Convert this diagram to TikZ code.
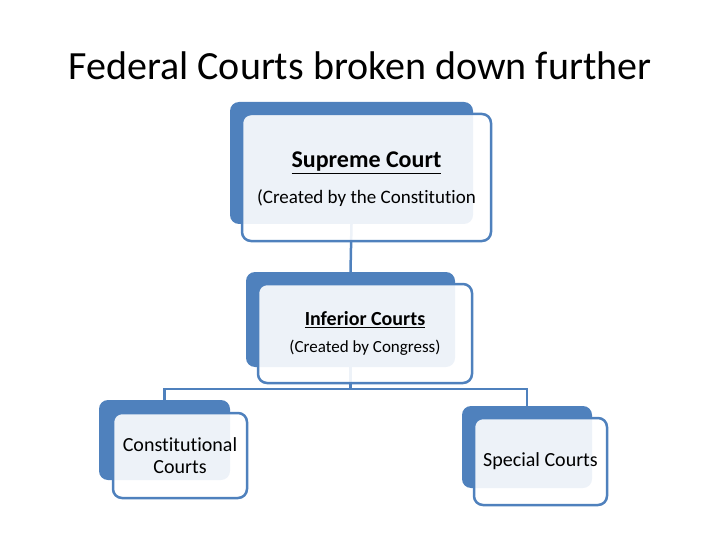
\documentclass[tikz,border=0pt]{standalone}
\usepackage{fontspec}
\setmainfont{Carlito}[Ligatures=NoCommon]
\usepackage{tikz}
\usetikzlibrary{positioning, backgrounds, calc}

\definecolor{accent}{HTML}{4F81BD}

\tikzset{
    backbox/.style={fill=accent, rounded corners=9pt, inner sep=0pt},
    frontbox/.style={draw=accent, line width=2.5pt, fill=white, fill opacity=0.9, text opacity=1,
        rounded corners=9pt, inner sep=0pt, align=center},
    link/.style={draw=accent, line width=2.5pt}
}

\begin{document}
\begin{tikzpicture}[x=1pt, y=-1pt]
    \useasboundingbox (0,0) rectangle (720,540);
    % Title
    \node[font=\fontsize{40}{46}\selectfont] (title) at (360,66) {Federal Courts broken down further};
    % Supreme Court
    \node[backbox, minimum width=243pt, minimum height=122pt] (supB) at (351.5,163) {};
    \node[frontbox, minimum width=249pt, minimum height=127pt, text depth=0pt] (sup) at (366.5,177.5)
        {\fontsize{24}{29}\selectfont\textbf{\underline{Supreme Court}}\\[15pt]
         \fontsize{19}{23}\selectfont(Created by the Constitution};
    % Inferior Courts
    \node[backbox, minimum width=209pt, minimum height=95pt] (infB) at (350.5,319.5) {};
    \node[frontbox, minimum width=214pt, minimum height=99pt] (inf) at (365,333.5)
        {\fontsize{20}{24}\selectfont\textbf{\underline{Inferior Courts}}\\[12pt]
         \fontsize{17}{21}\selectfont(Created by Congress)};
    % Constitutional and Special Courts
    \node[backbox, minimum width=131pt, minimum height=80pt] (conB) at (164.5,440) {};
    \node[frontbox, minimum width=134pt, minimum height=85pt, font=\fontsize{20}{22}\selectfont] (con) at (180,455.5)
        {Constitutional\\ Courts};
    \node[backbox, minimum width=130pt, minimum height=82pt] (speB) at (527,447) {};
    \node[frontbox, minimum width=133pt, minimum height=87pt, font=\fontsize{20}{24}\selectfont] (spe) at (540.5,461.5)
        {Special Courts};
    % Connectors (behind the boxes)
    \begin{scope}[on background layer]
        \draw[link] (supB.south) -- (infB.north);
        \coordinate (fork) at ($(infB.south)+(0,22)$);
        \draw[link] (infB.south) -- (fork);
        \draw[link] (fork) -| (conB.north);
        \draw[link] (fork) -| (speB.north);
    \end{scope}
\end{tikzpicture}
\end{document}
